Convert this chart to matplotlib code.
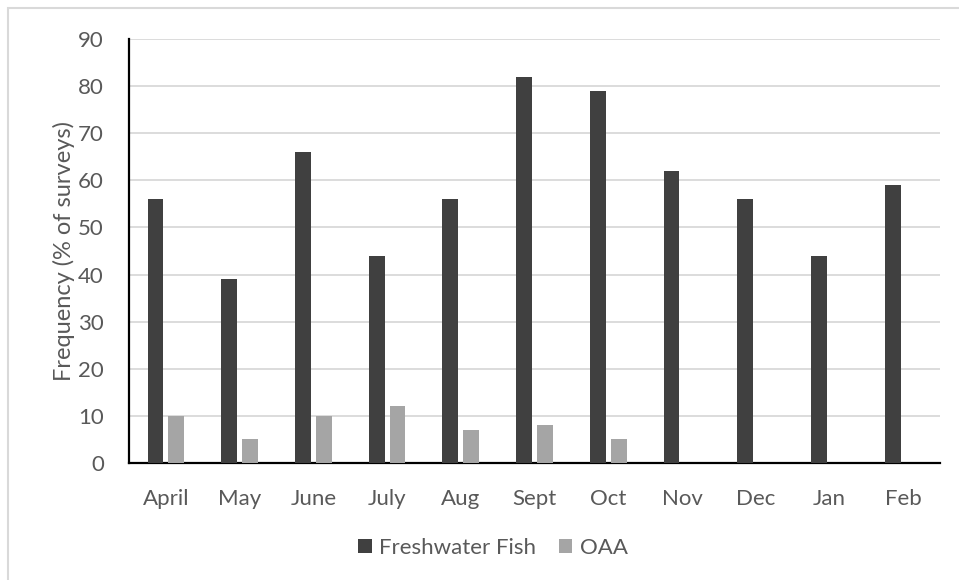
import numpy as np
import matplotlib.pyplot as plt
from matplotlib.patches import Rectangle

months = ["April", "May", "June", "July", "Aug", "Sept", "Oct", "Nov", "Dec", "Jan", "Feb"]
freshwater_fish = [56, 39, 66, 44, 56, 82, 79, 62, 56, 44, 59]
oaa = [10, 5, 10, 12, 7, 8, 5, 0, 0, 0, 0]

dark = "#404040"
light = "#a5a5a5"
text_col = "#595959"

plt.rcParams['font.family'] = ['Lato', 'DejaVu Sans']

fig = plt.figure(figsize=(9.59, 5.80), dpi=100)
ax = fig.add_axes([129 / 959, 1 - 463 / 580, (940 - 129) / 959, (463 - 39) / 580])

x = np.arange(len(months))
w = 0.215
ax.bar(x - 0.141, freshwater_fish, w, color=dark, label="Freshwater Fish", zorder=3)
ax.bar(x + 0.141, oaa, w, color=light, label="OAA", zorder=3)

ax.set_xlim(-0.5, len(months) - 0.5)
ax.set_ylim(0, 90)
ax.set_yticks(range(0, 91, 10))
ax.set_xticks(x)
ax.set_xticklabels(months)
ax.tick_params(axis='both', length=0, labelsize=16, colors=text_col)
ax.tick_params(axis='x', pad=19)
ax.tick_params(axis='y', pad=18)
ax.yaxis.grid(True, color="#d9d9d9", linewidth=1.3, zorder=0)

for side in ["top", "right"]:
    ax.spines[side].set_visible(False)
for side in ["left", "bottom"]:
    ax.spines[side].set_linewidth(1.6)
    ax.spines[side].set_color("black")

ax.set_ylabel("Frequency (% of surveys)", fontsize=17, color=text_col, labelpad=2)

fig.legend(loc="center", bbox_to_anchor=(493 / 959, 1 - 548 / 580), ncol=2,
           frameon=False, fontsize=16, labelcolor=text_col, handlelength=0.6,
           handleheight=0.6, handletextpad=0.35, columnspacing=1.0)

# light outer border of the chart area
fig.patches.append(Rectangle((8 / 959, -0.1), 1.2, 1 - 8 / 580 + 0.1, transform=fig.transFigure,
                             fill=False, edgecolor="#d9d9d9", linewidth=1.5))

fig.savefig("out.png", dpi=100)
